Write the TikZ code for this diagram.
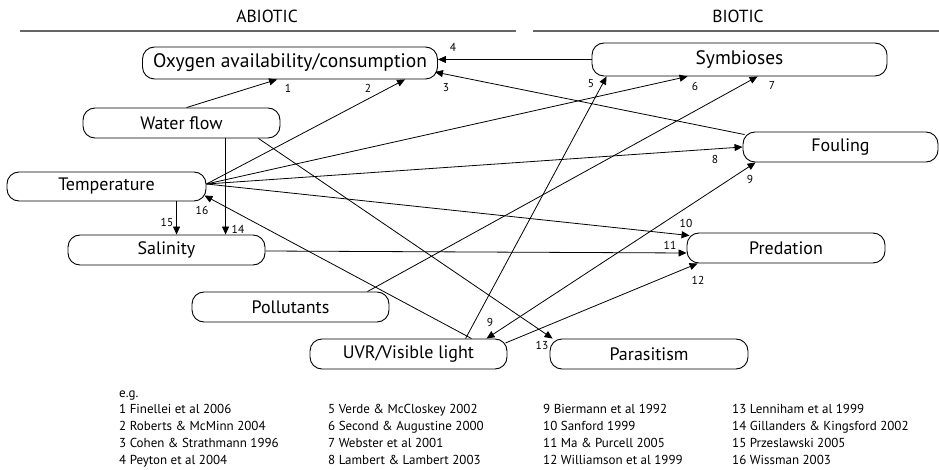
\documentclass[tikz,border=0pt]{standalone}
\usepackage{fontspec}
\setmainfont{PT Sans}
\usetikzlibrary{arrows.meta}
\begin{document}
\begin{tikzpicture}[x=1pt,y=-1pt,
  box/.style={draw=black, line width=0.9pt, rounded corners=12pt, inner sep=0pt,
    minimum width=197pt, minimum height=30pt, font=\fontsize{18}{20}\selectfont},
  bigbox/.style={box, minimum width=295pt, minimum height=32pt, font=\fontsize{19.5}{22}\selectfont},
  conn/.style={draw=black, line width=0.8pt, -{Triangle[length=8pt,width=7pt]}},
  biconn/.style={conn, {Triangle[length=8pt,width=7pt]}-{Triangle[length=8pt,width=7pt]}},
  num/.style={font=\fontsize{11.5}{12}\selectfont, inner sep=0pt},
  hdr/.style={font=\fontsize{17.5}{20}\selectfont, inner sep=0pt},
  hline/.style={draw=black!60, line width=1.3pt},
  leg/.style={font=\fontsize{13}{15}\selectfont, inner sep=0pt, anchor=base west}
]
\useasboundingbox (0,0) rectangle (939,470);

% headers
\node[hdr] (habio) at (267,16) {ABIOTIC};
\node[hdr] (hbio) at (738,16) {BIOTIC};
\coordinate (ha1) at (20,31); \coordinate (ha2) at (516,31);
\coordinate (hb1) at (533,31); \coordinate (hb2) at (939,31);
\draw[hline] (ha1) -- (ha2);
\draw[hline] (hb1) -- (hb2);

% nodes
\node[bigbox] (oxy) at (290,63) {Oxygen availability/consumption};
\node[bigbox, minimum height=33pt] (sym) at (739.5,59.5) {Symbioses};
\node[box] (water) at (181.5,123) {Water flow};
\node[box, minimum width=199pt, minimum height=29pt] (temp) at (106.5,186.5) {Temperature};
\node[box, minimum width=195pt] (foul) at (840.5,147) {Fouling};
\node[box] (sal) at (166.5,250) {Salinity};
\node[box, minimum width=198pt] (pred) at (786,248) {Predation};
\node[box] (poll) at (290.5,307) {Pollutants};
\node[box] (uvr) at (408.5,354) {UVR/Visible light};
\node[box, minimum width=198pt] (para) at (649,354) {Parasitism};

\coordinate (tp) at ([yshift=2.5pt]temp.east);

% connectors
\draw[conn] ([xshift=104pt]water.north west) -- ([xshift=135pt]oxy.south west);   % 1
\draw[conn] (tp) -- ([xshift=263pt]oxy.south west);                               % 2
\draw[conn] ([xshift=2pt,yshift=-3pt]foul.north west) -- ([xshift=-3pt,yshift=-9pt]oxy.east); % 3
\draw[conn] (sym.west) -- (sym.west -| oxy.east);                                 % 4
\draw[conn] ([xshift=156pt]uvr.north west) -- ([xshift=15pt]sym.south west);      % 5
\draw[conn] (tp) -- ([xshift=96pt]sym.south west);                                % 6
\draw[conn] ([xshift=-22pt]poll.north east) -- ([xshift=166pt]sym.south west);    % 7
\draw[conn] (tp) -- (foul.west);                                                  % 8
\draw[biconn] ([xshift=177pt]uvr.north west) -- ([xshift=13pt]foul.south west);   % 9
\draw[conn] (tp) -- ([xshift=3pt,yshift=-3pt]pred.north west);                    % 10
\draw[conn] ([yshift=-1pt]sal.east) -- ([yshift=-5pt]pred.west);                  % 11
\draw[conn] ([xshift=-2pt,yshift=11pt]uvr.east) -- ([xshift=11pt]pred.south west); % 12
\draw[conn] ([xshift=-22pt]water.south east) -- ([xshift=3pt]para.north west);    % 13
\draw[conn] ([xshift=143pt]water.south west) -- ([xshift=158pt]sal.north west);   % 14
\draw[conn] ([xshift=170pt]temp.south west) -- ([xshift=109pt]sal.north west);    % 15
\draw[conn] ([xshift=162pt]uvr.north west) -- ([xshift=-2pt,yshift=-9pt]temp.east); % 16

% connector labels
\node[num] (n1) at (288,88) {1};
\node[num] (n2) at (368,88) {2};
\node[num] (n3) at (446,88) {3};
\node[num] (n4) at (453,47) {4};
\node[num] (n5) at (591,84) {5};
\node[num] (n6) at (695,86) {6};
\node[num] (n7) at (772,85) {7};
\node[num] (n8) at (715,159) {8};
\node[num] (n9a) at (750,179) {9};
\node[num] (n9b) at (490,322) {9};
\node[num] (n10) at (686,223) {10};
\node[num] (n11) at (670,245) {11};
\node[num] (n12) at (698,280) {12};
\node[num] (n13) at (542,345) {13};
\node[num] (n14) at (238,229) {14};
\node[num] (n15) at (167,222) {15};
\node[num] (n16) at (202,210) {16};

% legend
\node[leg] (eg) at (119,397) {e.g.};
\node[leg] (r1) at (119,413) {1 Finellei et al 2006};
\node[leg] (r2) at (119,430) {2 Roberts \& McMinn 2004};
\node[leg] (r3) at (119,447) {3 Cohen \& Strathmann 1996};
\node[leg] (r4) at (119,464) {4 Peyton et al 2004};
\node[leg] (r5) at (328,413) {5 Verde \& McCloskey 2002};
\node[leg] (r6) at (328,430) {6 Second \& Augustine 2000};
\node[leg] (r7) at (328,447) {7 Webster et al 2001};
\node[leg] (r8) at (328,464) {8 Lambert \& Lambert 2003};
\node[leg] (r9) at (543,413) {9 Biermann et al 1992};
\node[leg] (r10) at (543,430) {10 Sanford 1999};
\node[leg] (r11) at (543,447) {11 Ma \& Purcell 2005};
\node[leg] (r12) at (543,464) {12 Williamson et al 1999};
\node[leg] (r13) at (732,413) {13 Lenniham et al 1999};
\node[leg] (r14) at (732,430) {14 Gillanders \& Kingsford 2002};
\node[leg] (r15) at (732,447) {15 Przeslawski 2005};
\node[leg] (r16) at (732,464) {16 Wissman 2003};
\end{tikzpicture}
\end{document}
